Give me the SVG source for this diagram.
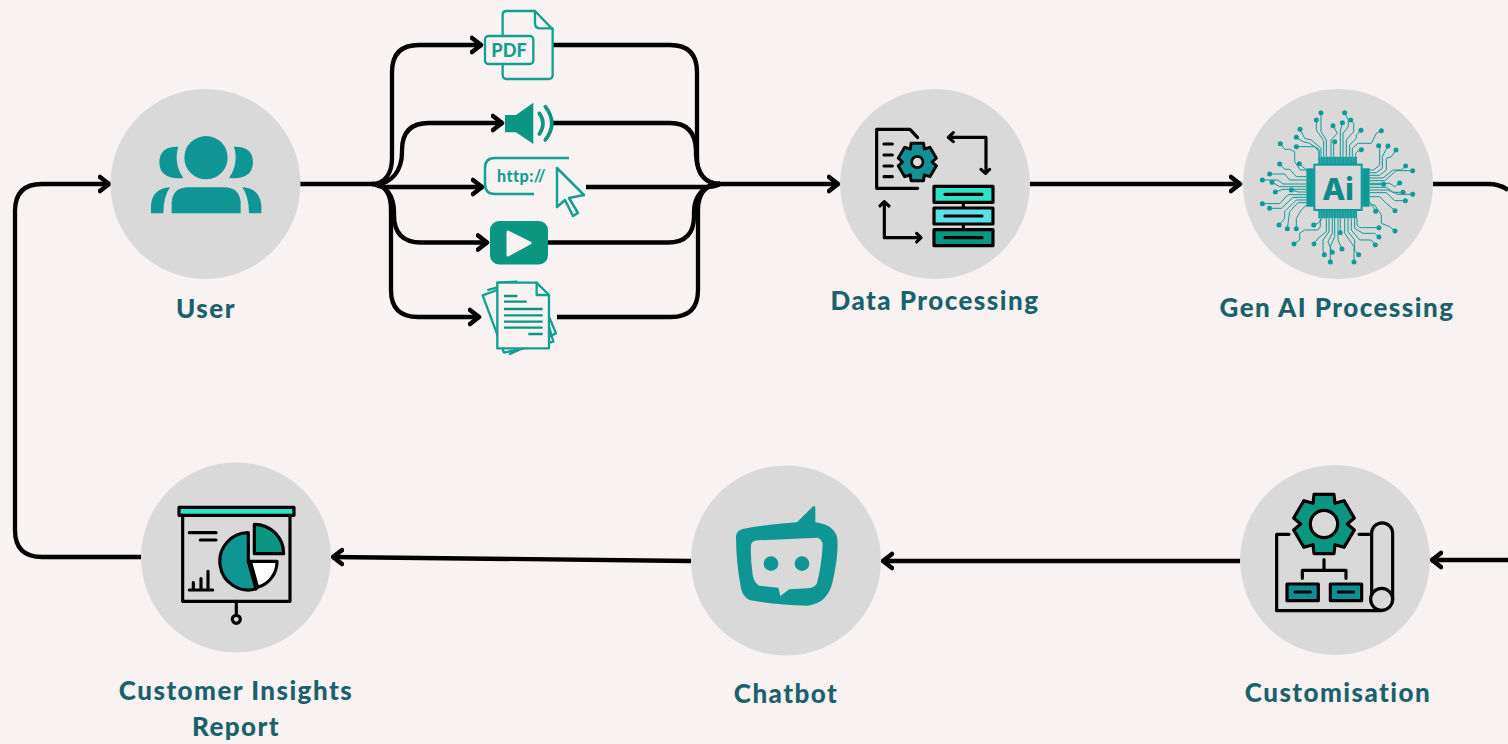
<svg xmlns="http://www.w3.org/2000/svg" xmlns:xlink="http://www.w3.org/1999/xlink" width="1508" height="744" viewBox="0 0 1508 744">
<style>
.disc{fill:#d9d9d9}
.conn{fill:none;stroke:#000;stroke-width:4.300;stroke-linecap:butt;stroke-linejoin:round}
.lbl{font-family:"Lato","Liberation Sans",sans-serif;font-weight:900;font-size:26px;fill:#1a616b;text-anchor:middle;letter-spacing:1.450px}
.k{fill:none;stroke:#000;stroke-width:9.500;stroke-linecap:round;stroke-linejoin:round}
.ko{stroke:#000;stroke-width:9.500;stroke-linejoin:round}
.g{fill:none;stroke:#12a090;stroke-width:7;stroke-linecap:round;stroke-linejoin:round}
.tr{fill:none;stroke:#0f9a9a;stroke-width:3;stroke-linejoin:round}
.dot{fill:#0f9a9a}
.ic{font-family:"Lato","Liberation Sans",sans-serif;font-weight:900;fill:#12a090}
</style>
<defs>
<marker id="chev" markerUnits="userSpaceOnUse" markerWidth="16" markerHeight="20" refX="12" refY="10" orient="auto">
<path d="M2 3 L11 10 L2 17" fill="none" stroke="#000" stroke-width="4.500" stroke-linecap="round" stroke-linejoin="round"/>
</marker>
<path id="gear" d="M-30 -89 H30 L33 -62 L60 -70 L91 -18 L70 0 L91 18 L60 70 L33 62 L30 89 H-30 L-33 62 L-60 70 L-91 18 L-70 0 L-91 -18 L-60 -70 L-33 -62 Z"/>
</defs>
<rect width="1508" height="744" fill="#f8f2f2"/>

<g id="connectors" class="conn">
<path d="M300 184 H372"/>
<path d="M372 184 C386 184 392 172 392 158 V72 Q392 45 419 45 H482" marker-end="url(#chev)"/>
<path d="M376 184 C392 184 402 170 402 152 V150 Q402 123 429 123 H503" marker-end="url(#chev)"/>
<path d="M376 185 Q380 187 390 187 H483" marker-end="url(#chev)"/>
<path d="M372 184 C386 184 394 196 394 212 V215 Q394 242.500 421 242.500 H488" marker-end="url(#chev)"/>
<path d="M372 184 C386 184 391 196 391 210 V290 Q391 317 418 317 H480" marker-end="url(#chev)"/>
<path d="M553 45 H670 Q697 45 697 72 V158 C697 172 704 184 720 184"/>
<path d="M553 123 H670 Q695 123 696 150 V155 C697 172 704 184 720 184"/>
<path d="M586 187 H706 Q714 187 720 184"/>
<path d="M548 242.500 H668 Q694 242.500 694 216 V212 C694 196 704 184 720 184"/>
<path d="M557 317 H671 Q698 317 698 290 V210 C698 196 704 184 720 184"/>
<path d="M718 184 H839" marker-end="url(#chev)"/>
<path d="M1030 184 H1241" marker-end="url(#chev)"/>
<path d="M1433 184 H1488 Q1500 184 1508 190"/>
<path d="M1508 560 H1431" marker-end="url(#chev)"/>
<path d="M1240 561 H882" marker-end="url(#chev)"/>
<path d="M691 561 L332 557" marker-end="url(#chev)"/>
<path d="M141 557 H42 Q15 557 15 530 V211 Q15 184 42 184 H110" marker-end="url(#chev)"/>
</g>

<g id="node-user">
<circle class="disc" cx="205.500" cy="184" r="95"/>
<g transform="translate(110 90) scale(.3333)" fill="#109595">
<circle cx="288" cy="203" r="65"/>
<path d="M205 170 Q148 168 148 218 Q150 270 220 264 Q190 220 205 170Z"/>
<path d="M372 170 Q429 168 429 218 Q427 270 357 264 Q387 220 372 170Z"/>
<path d="M185 370 V335 Q190 292 235 292 H342 Q387 292 392 335 V370Z"/>
<path d="M123 370 V345 Q128 295 180 292 Q160 320 160 370Z"/>
<path d="M454 370 V345 Q449 295 397 292 Q417 320 417 370Z"/>
</g>
<text class="lbl" x="206" y="318">User</text>
</g>

<g id="node-pdf" transform="translate(360 0) scale(.3333)">
<path class="g" d="M428 108 V45 Q428 33 440 33 H525 L578 88 V225 Q578 237 566 237 H440 Q428 237 428 225 V192"/>
<path class="g" d="M525 33 V70 Q525 85 540 85 H578"/>
<rect class="g" x="375" y="108" width="145" height="84" rx="10"/>
<text class="ic" x="394" y="170" font-size="56" textLength="106" lengthAdjust="spacingAndGlyphs" font-weight="700">PDF</text>
</g>

<g id="node-audio" transform="translate(360 0) scale(.3333)">
<path d="M435 345 H468 L520 308 V432 L468 397 H435Z" fill="#0a9680"/>
<path d="M538 340 Q560 370 538 402 M556 320 Q595 370 556 420" fill="none" stroke="#0a9680" stroke-width="11" stroke-linecap="round"/>
</g>

<g id="node-url" fill="none" stroke="#12a090" stroke-width="2.500">
<path d="M569 158 H495 Q485 158 485 168 V184 Q485 194 495 194 H534"/>
<path d="M557 168 L584 195 L569 198 L578 213 L573 216 L565 200 L557 207Z" stroke-linejoin="round"/>
<text class="ic" x="497" y="182" font-size="16" stroke="none" letter-spacing=".5">http://</text>
</g>

<g id="node-video">
<rect x="490" y="221" width="58" height="43.500" rx="9" fill="#0a9680"/>
<path d="M508 232 L530 243 L508 255Z" fill="#f8f2f2" stroke="#f8f2f2" stroke-width="3" stroke-linejoin="round"/>
</g>

<g id="node-document" transform="translate(360 170) scale(.3333)">
<path class="g" d="M412 360 L368 376 L432 548 L560 520 M385 360 L412 352 M470 335 L412 338 M450 552 L588 490 L567 440 M560 520 L580 515 L567 470"/>
<path d="M412 338 H530 L567 375 V535 H412Z" fill="#f8f2f2" stroke="#12a090" stroke-width="7" stroke-linejoin="round"/>
<path class="g" d="M530 338 V375 H567"/>
<path d="M432 378 H472 M432 395 H500 M432 417 H548 M432 436 H548 M432 455 H548 M432 473 H548 M505 492 H548" fill="none" stroke="#0a9680" stroke-width="7"/>
</g>

<g id="node-data">
<circle class="disc" cx="935" cy="184" r="95"/>
<g transform="translate(840 90) scale(.3333)">
<path class="k" d="M233 143 L210 118 H110 V295 H233"/>
<path class="k" d="M132 162 H157 M132 195 H157 M132 228 H157 M132 260 H157"/>
<use xlink:href="#gear" href="#gear" transform="translate(232 216) scale(.63)" fill="#0f9196" stroke="#000" stroke-width="14" stroke-linejoin="round"/>
<circle cx="232" cy="216" r="17" fill="#d9d9d9" stroke="#000" stroke-width="8"/>
<path class="k" d="M325 142 H438 V250 M340 128 L325 142 L340 155 M423 238 L436 250 L449 238"/>
<path class="k" d="M133 337 V443 H242 M120 348 L133 335 L147 348 M230 430 L243 443 L230 456"/>
<path class="k" d="M370 337 V354 M370 402 V419"/>
<rect class="ko" x="282" y="289" width="177" height="48" fill="#2ee2c5"/>
<rect class="ko" x="282" y="354" width="177" height="48" fill="#5ce0e8"/>
<rect class="ko" x="282" y="419" width="177" height="48" fill="#0a9680"/>
<path class="k" d="M315 313 H426 M315 378 H426 M315 443 H426"/>
</g>
<text class="lbl" x="935" y="310">Data Processing</text>
</g>

<g id="node-genai">
<circle class="disc" cx="1338" cy="184" r="95"/>
<g transform="translate(1243 90) scale(.3333)">
<path class="tr" d="M250 200 V150 L234 125 V68 M242 200 V152 L220 120 V90 M234 200 V175 L205 150 L185 145 L171 118 M228 200 V178 L200 160 L180 155 L160 142 M228 200 V185 L215 170 H160 M190 240 H172 L155 215 V185 L140 178 H125 L112 161 M190 240 L169 221 M272 200 V155 M264 200 V150 L283 130 L270 107 M292 200 V125 L298 98 M300 200 V130 L316 110 V90 L305 68 M310 200 V150 L332 125 V100 L323 90 M320 200 V165 L340 145 V135 L354 121 M328 200 V175 L345 160 H385 L400 130 L415 122 M338 200 V190 L345 183 L355 179"/>
<path class="tr" d="M380 240 H392 L410 225 V167 M380 248 H400 L418 235 V200 L435 168 M380 256 H410 L430 240 V205 L445 200 L459 180 M380 264 H420 L450 240 H475 L488 228 M380 272 H425 L460 242 H509 M380 280 H440 L455 290 L470 279 M380 284 H422 M380 292 H430 L450 307 H480 M380 300 H435 L465 313 H509 M380 308 H430 L455 332 H487 M380 320 H410 L430 340 L456 362 M380 335 L398 364"/>
<path class="tr" d="M380 345 H395 L415 375 V400 L440 410 L456 423 M342 385 V405 L350 413 H408 M335 385 V415 L360 430 H395 L408 441 M325 385 V420 L350 450 H385 L397 465 M315 385 V425 L335 450 V480 L347 494 M305 385 V430 L333 470 V516 M292 385 V428 M285 385 V450 L297 477 M275 385 V440 L262 470 V516 M268 385 V430 L255 455 L268 487 M258 385 V425 L240 450 V480 L244 494 M250 385 V425 L225 445 L213 462 M238 385 L225 400 L212 405 M232 385 V410 L225 420 H185 L170 430 V450 L153 462"/>
<path class="tr" d="M190 345 L175 360 L160 385 V416 M190 338 H165 L140 365 L133 416 M190 330 H160 L125 365 V385 L108 405 M190 322 H150 L115 355 H80 M190 314 H135 L110 341 H58 M190 306 H165 L145 300 M190 298 H120 L97 306 M190 290 H110 L87 277 M190 282 H120 L105 270 H58 M190 270 H140 L125 252 H80 M190 260 H160 L140 238 H125 L110 222"/>
<g class="dot">
<circle cx="234" cy="68" r="7.500"/><circle cx="305" cy="68" r="7.500"/><circle cx="220" cy="90" r="7.500"/><circle cx="323" cy="90" r="7.500"/><circle cx="298" cy="98" r="7.500"/><circle cx="270" cy="107" r="7.500"/><circle cx="171" cy="118" r="7.500"/><circle cx="354" cy="121" r="7.500"/><circle cx="415" cy="122" r="7.500"/><circle cx="160" cy="142" r="7.500"/><circle cx="112" cy="161" r="7.500"/><circle cx="160" cy="170" r="7.500"/><circle cx="275" cy="155" r="7.500"/><circle cx="355" cy="179" r="7.500"/><circle cx="407" cy="167" r="7.500"/><circle cx="435" cy="168" r="7.500"/><circle cx="459" cy="180" r="7.500"/><circle cx="169" cy="221" r="7.500"/><circle cx="110" cy="222" r="7.500"/><circle cx="488" cy="228" r="7.500"/><circle cx="509" cy="242" r="7.500"/><circle cx="80" cy="252" r="7.500"/><circle cx="58" cy="270" r="7.500"/><circle cx="87" cy="277" r="7.500"/><circle cx="470" cy="279" r="7.500"/><circle cx="422" cy="283" r="7.500"/><circle cx="97" cy="306" r="7.500"/><circle cx="145" cy="300" r="7.500"/><circle cx="480" cy="307" r="7.500"/><circle cx="509" cy="313" r="7.500"/><circle cx="487" cy="332" r="7.500"/><circle cx="58" cy="341" r="7.500"/><circle cx="80" cy="355" r="7.500"/><circle cx="398" cy="364" r="7.500"/><circle cx="456" cy="362" r="7.500"/><circle cx="108" cy="405" r="7.500"/><circle cx="133" cy="416" r="7.500"/><circle cx="160" cy="416" r="7.500"/><circle cx="212" cy="405" r="7.500"/><circle cx="408" cy="413" r="7.500"/><circle cx="456" cy="423" r="7.500"/><circle cx="408" cy="441" r="7.500"/><circle cx="292" cy="428" r="7.500"/><circle cx="397" cy="465" r="7.500"/><circle cx="153" cy="462" r="7.500"/><circle cx="213" cy="462" r="7.500"/><circle cx="297" cy="477" r="7.500"/><circle cx="268" cy="487" r="7.500"/><circle cx="244" cy="494" r="7.500"/><circle cx="347" cy="494" r="7.500"/><circle cx="262" cy="516" r="7.500"/><circle cx="333" cy="516" r="7.500"/>
</g>
<path d="M226 200 H342 V222 H226Z M226 362 H342 V385 H226Z M190 235 H212 V350 H190Z M358 235 H380 V350 H358Z" fill="#0f9a9a"/>
<path d="M232 200 V222 M240 200 V222 M248 200 V222 M256 200 V222 M264 200 V222 M272 200 V222 M280 200 V222 M288 200 V222 M296 200 V222 M304 200 V222 M312 200 V222 M320 200 V222 M328 200 V222 M336 200 V222 M232 362 V385 M240 362 V385 M248 362 V385 M256 362 V385 M264 362 V385 M272 362 V385 M280 362 V385 M288 362 V385 M296 362 V385 M304 362 V385 M312 362 V385 M320 362 V385 M328 362 V385 M336 362 V385" stroke="#7cc0bf" stroke-width="1.500" fill="none"/>
<rect x="214" y="224" width="142" height="136" fill="#d9d9d9" stroke="#0f9a9a" stroke-width="6"/>
<text x="285" y="329" font-family="'Inter','Liberation Sans',sans-serif" font-weight="800" font-size="90" fill="#0f8a8a" text-anchor="middle">Ai</text>
</g>
<text class="lbl" x="1337" y="317">Gen AI Processing</text>
</g>

<g id="node-customisation">
<circle class="disc" cx="1335" cy="560" r="95"/>
<g transform="translate(1240 465) scale(.3333)">
<use xlink:href="#gear" href="#gear" transform="translate(252 177)" fill="#0a9680" stroke="#000" stroke-width="9.500" stroke-linejoin="round"/>
<circle cx="252" cy="177" r="41" fill="#d9d9d9" stroke="#000" stroke-width="9.500"/>
<path class="k" d="M147 208 H110 V437 H425 M357 208 H393"/>
<path class="k" d="M395 400 V205 A31 31 0 0 1 458 205 V405"/>
<circle cx="425" cy="403" r="33" fill="#d9d9d9" stroke="#000" stroke-width="9.500"/>
<path class="k" d="M252 284 V316 M187 340 V316 H318 V340"/>
<rect class="ko" x="141" y="357" width="94" height="50" fill="#0f8f93"/>
<rect class="ko" x="271" y="357" width="94" height="50" fill="#0f8f93"/>
<path class="k" d="M165 381 H211 M295 381 H341"/>
</g>
<text class="lbl" x="1338" y="702">Customisation</text>
</g>

<g id="node-chatbot">
<circle class="disc" cx="786" cy="560.500" r="95"/>
<g transform="translate(691 465) scale(.3333)">
<path fill="#109595" fill-rule="evenodd" d="M135 215 Q135 198 155 192 Q230 178 318 172 L365 125 Q373 120 373 130 V172 Q425 178 438 215 Q445 260 425 350 Q410 415 350 422 Q250 420 175 405 Q155 395 150 370 Q135 290 135 215Z M180 240 Q182 228 200 226 L380 218 Q395 225 395 240 Q392 300 378 355 Q372 368 350 370 L295 373 L268 393 L262 368 L205 362 Q190 355 185 330 Q178 280 180 240Z"/>
<circle cx="240" cy="296" r="22" fill="#109595"/>
<circle cx="333" cy="296" r="22" fill="#109595"/>
</g>
<text class="lbl" x="786" y="703">Chatbot</text>
</g>

<g id="node-report">
<circle class="disc" cx="236" cy="557.500" r="95"/>
<g transform="translate(141 462) scale(.3333)">
<rect class="ko" x="114" y="136" width="345" height="24" fill="#2ee2c5"/>
<path class="k" d="M125 160 V418 H447 V160"/>
<path class="k" d="M286 418 V460"/>
<circle cx="286" cy="472" r="12" fill="#d9d9d9" stroke="#000" stroke-width="9.500"/>
<path class="k" d="M145 212 H225 M178 234 H225"/>
<path class="k" d="M145 384 H215 M157 384 V362 M180 384 V350 M201 384 V328"/>
<path class="ko" d="M322 212 V298 L345 381 A86 86 0 1 1 322 212Z" fill="#109595"/>
<path class="ko" d="M340 187 V275 H428 A88 88 0 0 0 340 187Z" fill="#0a9680"/>
<path class="ko" d="M328 298 H408 A80 80 0 0 1 350 376Z" fill="#fff"/>
</g>
<text class="lbl" x="236" y="700">Customer Insights</text>
<text class="lbl" x="236" y="736">Report</text>
</g>
</svg>
